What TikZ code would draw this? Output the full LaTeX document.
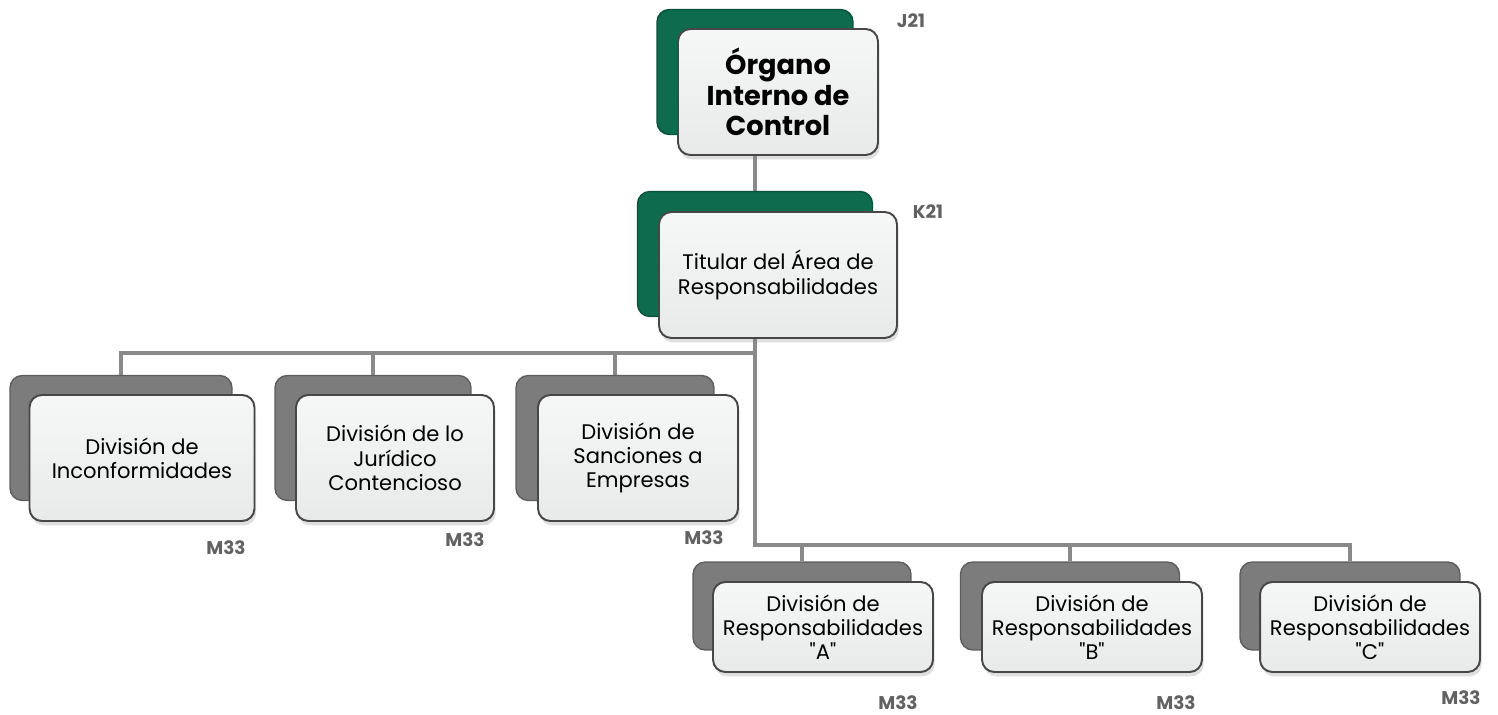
\documentclass[tikz,border=0pt]{standalone}
\usepackage{fontspec}
\setmainfont{Poppins}
\usetikzlibrary{positioning,shadows,backgrounds}
\definecolor{oicgreen}{HTML}{0E6B4E}
\definecolor{unitgray}{HTML}{7C7C7C}
\definecolor{boxfill}{HTML}{E8EAEA}
\definecolor{codegray}{HTML}{626262}
\definecolor{linkgray}{HTML}{8A8A8A}

\begin{document}
\begin{tikzpicture}[x=0.02cm,y=-0.02cm,
    back/.style={draw=#1!75!black, fill=#1, rounded corners=7pt, line width=0.8pt,
      inner sep=0pt, minimum height=2.5cm},
    front/.style={draw=black!72, top color=white!60!boxfill, bottom color=boxfill,
      rounded corners=7pt, line width=1.1pt, align=center, inner sep=2pt,
      minimum height=2.52cm, drop shadow={shadow xshift=1pt, shadow yshift=-2.5pt, opacity=0.25},
      font=\fontsize{12}{13.8}\selectfont},
    lowfront/.style={front, minimum height=1.8cm},
    lowback/.style={back=#1, minimum height=1.76cm},
    code/.style={font=\bfseries\fontsize{10.5}{12}\selectfont, text=codegray},
    link/.style={draw=linkgray, line width=2.6pt}]
  \useasboundingbox (0,0) rectangle (1498,715);

  % Organo Interno de Control
  \node[back=oicgreen, minimum width=3.92cm] (oicb) at (755,72) {};
  \node[front, minimum width=4.0cm, font=\bfseries\fontsize{15.5}{17.5}\selectfont]
    (oic) at (778,92) {Órgano\\Interno de\\Control};
  \node[code] (oicc) at (911,21) {J21};

  % Titular
  \node[back=oicgreen, minimum width=4.7cm] (titb) at (755,254) {};
  \node[front, minimum width=4.76cm] (tit) at (778,275) {Titular del Área de\\Responsabilidades};
  \node[code] (titc) at (928,212) {K21};

  % Divisiones, primer nivel
  \node[back=unitgray, minimum width=4.44cm] (inb) at (121,438) {};
  \node[front, minimum width=4.5cm] (inc) at (142,458) {División de\\Inconformidades};
  \node[code] (incc) at (226,548) {M33};

  \node[back=unitgray, minimum width=3.92cm] (jub) at (373,438) {};
  \node[front, minimum width=3.96cm] (jur) at (395,458) {División de lo\\Jurídico\\Contencioso};
  \node[code] (jurc) at (465,540) {M33};

  \node[back=unitgray, minimum width=3.96cm] (sab) at (615,438) {};
  \node[front, minimum width=4.0cm] (san) at (638,458) {División de\\Sanciones a\\Empresas};
  \node[code] (sanc) at (704,538) {M33};

  % Divisiones de Responsabilidades
  \node[lowback=unitgray, minimum width=4.36cm] (rab) at (802,606) {};
  \node[lowfront, minimum width=4.4cm] (ra) at (823,627) {División de\\Responsabilidades\\\textquotedbl A\textquotedbl};
  \node[code] (rac) at (898,703) {M33};

  \node[lowback=unitgray, minimum width=4.38cm] (rbb) at (1070,606) {};
  \node[lowfront, minimum width=4.4cm] (rb) at (1092,627) {División de\\Responsabilidades\\\textquotedbl B\textquotedbl};
  \node[code] (rbc) at (1176,703) {M33};

  \node[lowback=unitgray, minimum width=4.4cm] (rcb) at (1350,606) {};
  \node[lowfront, minimum width=4.4cm] (rc) at (1370,627) {División de\\Responsabilidades\\\textquotedbl C\textquotedbl};
  \node[code] (rcc) at (1461,698) {M33};

  % connectors
  \coordinate (busa) at (755,353);
  \coordinate (busb) at (755,545);
  \begin{scope}[on background layer]
    \draw[link] (oicb.south) -- (titb.north);
    \draw[link] (titb.south) -- (busb) -| (rab.north);
    \draw[link] (busb) -| (rbb.north);
    \draw[link] (busb) -| (rcb.north);
    \draw[link] (busa) -| (inb.north);
    \draw[link] (busa) -| (jub.north);
    \draw[link] (busa) -| (sab.north);
  \end{scope}
\end{tikzpicture}
\end{document}
